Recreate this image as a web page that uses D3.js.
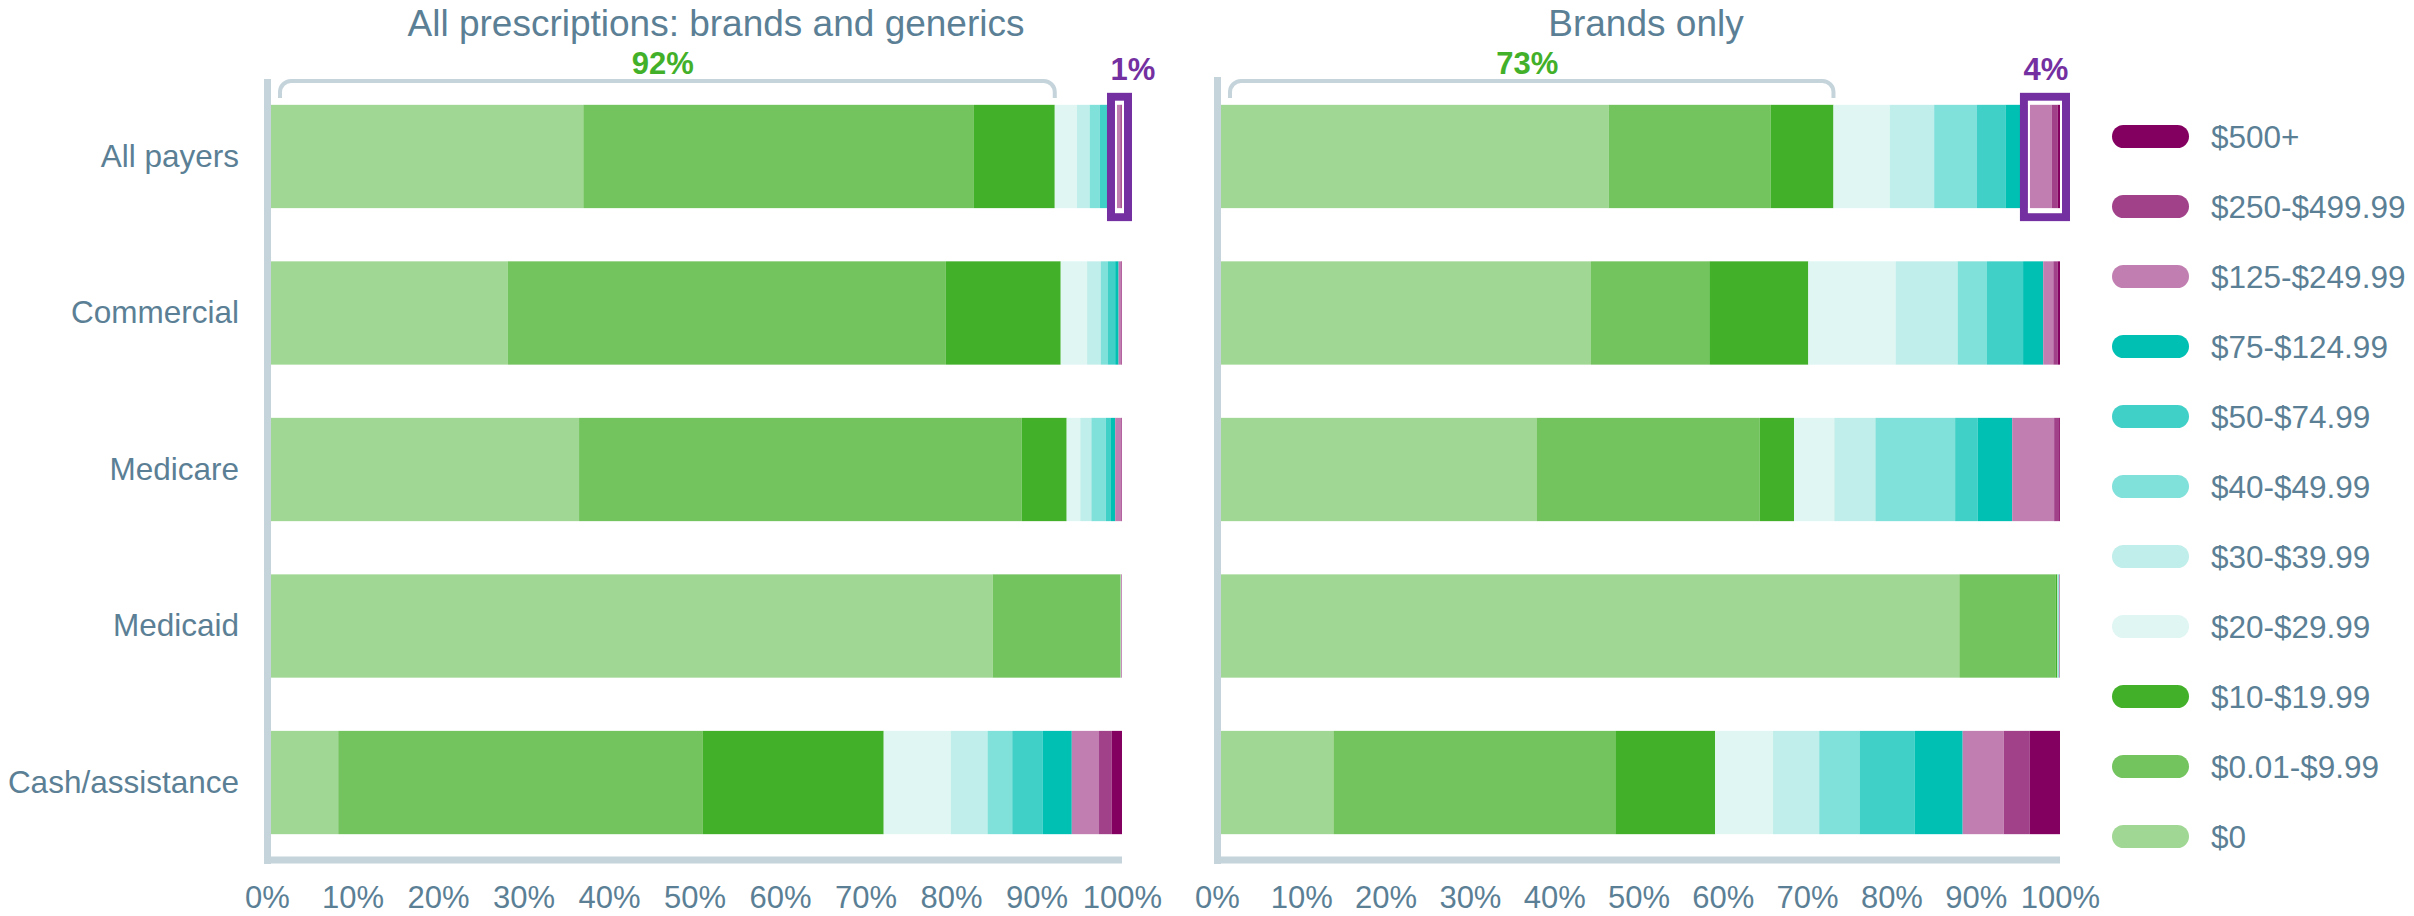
<!DOCTYPE html>
<html>
<head>
<meta charset="utf-8">
<script src="https://cdn.jsdelivr.net/npm/d3@7"></script>
<style>
  html, body { margin: 0; padding: 0; background: #ffffff; }
  svg { display: block; font-family: "Liberation Sans", Arial, sans-serif; }
</style>
</head>
<body>
<svg id="chart" width="2414" height="916"></svg>
<script>
// ---------- DATA ----------
const categories = ["All payers", "Commercial", "Medicare", "Medicaid", "Cash/assistance"];
const priceBands = ["$0", "$0.01-$9.99", "$10-$19.99", "$20-$29.99", "$30-$39.99", "$40-$49.99",
                    "$50-$74.99", "$75-$124.99", "$125-$249.99", "$250-$499.99", "$500+"];
const bandColors = ["#a1d794", "#73c35e", "#43b02a", "#dff6f3", "#c0eeea", "#80e0da",
                    "#41d0c7", "#00bfb3", "#c17fb1", "#a1418a", "#840060"];

// All prescriptions: brands and generics (% of prescriptions per price band)
const allRxAllPayers  = [36.7, 45.9, 9.5, 2.6, 1.5, 1.2, 0.9, 0.7, 0.8, 0.15, 0.05];
const allRxCommercial = [27.8, 51.5, 13.5, 3.1, 1.6, 0.8, 0.9, 0.4, 0.3, 0.07, 0.03];
const allRxMedicare   = [36.2, 52.0, 5.3, 1.6, 1.3, 1.7, 0.6, 0.5, 0.7, 0.07, 0.03];
const allRxMedicaid   = [84.8, 15.0, 0.05, 0.05, 0, 0, 0, 0, 0.05, 0.05, 0];
const allRxCash       = [7.9, 42.8, 21.3, 7.9, 4.3, 2.9, 3.6, 3.4, 3.2, 1.5, 1.2];

// Brands only
const brandAllPayers  = [46.2, 19.3, 7.5, 6.7, 5.3, 5.1, 3.4, 2.5, 3.0, 0.7, 0.3];
const brandCommercial = [44.1, 14.1, 11.8, 10.4, 7.4, 3.5, 4.3, 2.4, 1.2, 0.5, 0.3];
const brandMedicare   = [37.6, 26.6, 4.1, 4.8, 4.9, 9.5, 2.7, 4.1, 5.0, 0.6, 0.1];
const brandMedicaid   = [88.0, 11.5, 0.2, 0.1, 0, 0.05, 0, 0.05, 0.1, 0, 0];
const brandCash       = [13.4, 33.6, 11.9, 6.9, 5.5, 4.8, 6.6, 5.7, 4.9, 3.1, 3.6];

const panelTitles = ["All prescriptions: brands and generics", "Brands only"];
const lowCostLabels = ["92%", "73%"];     // share under $20 (all payers)
const highCostLabels = ["1%", "4%"];      // share $125+ (all payers)
const tickValues = [0, 10, 20, 30, 40, 50, 60, 70, 80, 90, 100];

// ---------- STYLE ----------
const TEXT = "#5b7f95";
const AXIS = "#c5d4db";
const GREEN = "#43b02a";
const PURPLE = "#7430a0";

const svg = d3.select("#chart");

const y = d3.scaleBand().domain(categories).range([79, 860]).paddingInner(0.34).paddingOuter(0.165);

const panels = [
  { title: panelTitles[0], titleX: 716, x0: 271, x1: 1122, top: 79,
    rows: [allRxAllPayers, allRxCommercial, allRxMedicare, allRxMedicaid, allRxCash],
    low: lowCostLabels[0], high: highCostLabels[0], showCats: true },
  { title: panelTitles[1], titleX: 1646, x0: 1221, x1: 2060, top: 77,
    rows: [brandAllPayers, brandCommercial, brandMedicare, brandMedicaid, brandCash],
    low: lowCostLabels[1], high: highCostLabels[1], showCats: false }
];

panels.forEach(p => {
  const x = d3.scaleLinear().domain([0, 100]).range([p.x0, p.x1]);
  const xt = d3.scaleLinear().domain([0, 100]).range([p.x0 - 4, p.x1]);
  const g = svg.append("g");

  // title
  g.append("text").attr("x", p.titleX).attr("y", 36).attr("text-anchor", "middle")
    .attr("font-size", 37).attr("fill", TEXT).text(p.title);

  // stacked bars
  const rowData = categories.map((c, i) => {
    let cum = 0;
    return p.rows[i].map((v, j) => { const s = cum; cum += v; return { cat: c, band: j, start: s, end: cum }; });
  });
  g.selectAll("g.row").data(rowData).join("g").attr("class", "row")
    .selectAll("rect").data(d => d).join("rect")
    .attr("x", d => x(d.start))
    .attr("width", d => Math.max(0, x(d.end) - x(d.start)))
    .attr("y", d => y(d.cat))
    .attr("height", y.bandwidth())
    .attr("fill", d => bandColors[d.band]);

  // axis lines
  g.append("line").attr("x1", x(0) - 3.5).attr("x2", x(0) - 3.5)
    .attr("y1", p.top).attr("y2", 864).attr("stroke", AXIS).attr("stroke-width", 7);
  g.append("line").attr("x1", x(0) - 7).attr("x2", x(100))
    .attr("y1", 860).attr("y2", 860).attr("stroke", AXIS).attr("stroke-width", 7);

  // x axis tick labels
  const ax = g.append("g").attr("transform", "translate(0,860)")
    .call(d3.axisBottom(xt).tickValues(tickValues).tickFormat(d => d + "%").tickSize(0).tickPadding(26));
  ax.select(".domain").remove();
  ax.selectAll("text").attr("font-size", 31).attr("fill", TEXT).attr("font-family", "Liberation Sans, Arial, sans-serif");

  // category labels
  if (p.showCats) {
    const ay = g.append("g").attr("transform", `translate(${x(0) - 4},0)`)
      .call(d3.axisLeft(y).tickSize(0).tickPadding(28));
    ay.select(".domain").remove();
    ay.selectAll("text").attr("font-size", 31.5).attr("fill", TEXT).attr("font-family", "Liberation Sans, Arial, sans-serif");
  }

  // bracket over the under-$20 share (All payers)
  const first = rowData[0];
  const lowEnd = first[2].end;
  const bx0 = x(0) + 9, bx1 = x(lowEnd), by = 81, r = 11, bb = 98;
  g.append("path")
    .attr("d", `M${bx0},${bb} V${by + r} A${r},${r} 0 0 1 ${bx0 + r},${by} H${bx1 - r} A${r},${r} 0 0 1 ${bx1},${by + r} V${bb}`)
    .attr("fill", "none").attr("stroke", AXIS).attr("stroke-width", 4);
  g.append("text").attr("x", (x(0) + x(lowEnd)) / 2).attr("y", 74).attr("text-anchor", "middle")
    .attr("font-size", 31).attr("font-weight", "bold").attr("fill", GREEN).text(p.low);

  // highlight box over the $125+ share (All payers)
  const hiStart = first[8].start;
  const ox0 = x(hiStart) - 6.5, ox1 = x(100) + 10;
  const oy0 = y(categories[0]) - 12, oy1 = y(categories[0]) + y.bandwidth() + 13;
  g.append("rect").attr("x", ox0 + 4).attr("y", oy0 + 4)
    .attr("width", ox1 - ox0 - 8).attr("height", oy1 - oy0 - 8)
    .attr("fill", "none").attr("stroke", PURPLE).attr("stroke-width", 8);
  g.append("rect").attr("x", ox0 + 9).attr("y", oy0 + 9)
    .attr("width", ox1 - ox0 - 18).attr("height", oy1 - oy0 - 18)
    .attr("fill", "none").attr("stroke", "#ffffff").attr("stroke-width", 2);
  g.append("text").attr("x", ox0 + 3.5).attr("y", 80)
    .attr("font-size", 31).attr("font-weight", "bold").attr("fill", PURPLE).text(p.high);
});

// ---------- LEGEND ----------
const legendOrder = priceBands.map((b, i) => i).reverse();
const ly = d3.scalePoint().domain(legendOrder).range([136.5, 836.5]);
const lg = svg.append("g");
const items = lg.selectAll("g").data(legendOrder).join("g")
  .attr("transform", d => `translate(2112,${ly(d)})`);
items.append("rect").attr("x", 0).attr("y", -11.5).attr("width", 77).attr("height", 23)
  .attr("rx", 11.5).attr("fill", d => bandColors[d]);
items.append("text").attr("x", 99).attr("y", 0).attr("dy", "0.35em")
  .attr("font-size", 31.5).attr("fill", TEXT).text(d => priceBands[d]);
</script>
</body>
</html>
